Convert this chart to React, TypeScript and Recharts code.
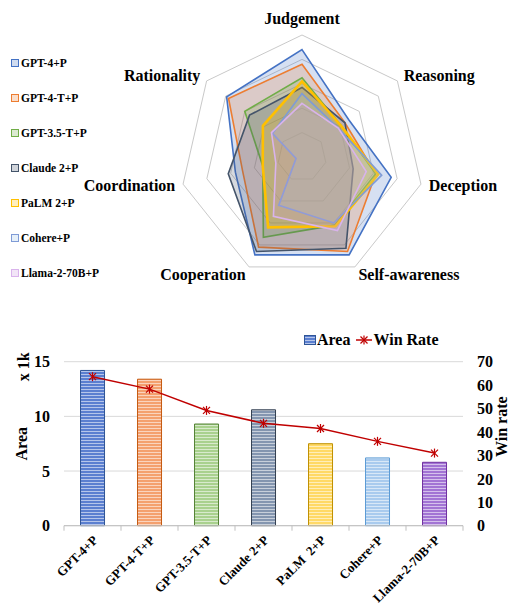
import React from "react";
import {
    RadarChart,
    Radar,
    PolarGrid,
    PolarAngleAxis,
    PolarRadiusAxis,
    Legend,
    ComposedChart,
    Bar,
    Line,
    XAxis,
    YAxis,
    CartesianGrid,
    Cell,
    Label,
} from "recharts";

// ---- data ----
const skills = ["Judgement", "Reasoning", "Deception", "Self-awareness", "Cooperation", "Coordination", "Rationality"];
const models = ["GPT-4+P", "GPT-4-T+P", "GPT-3.5-T+P", "Claude 2+P", "PaLM 2+P", "Cohere+P", "Llama-2-70B+P"];
const barLabels = ["GPT-4+P", "GPT-4-T+P", "GPT-3.5-T+P", "Claude 2+P", "PaLM  2+P", "Cohere+P", "Llama-2-70B+P"];

// radar scores (0-100), order follows skills
const gpt4 = [88, 49, 75, 89, 89, 56, 79];
const gpt4t = [76, 45, 62, 86, 82, 50, 77];
const gpt35t = [65, 41, 62, 62, 73, 33, 60];
const claude2 = [57, 45, 43, 83, 86, 62, 55];
const palm2 = [62, 41, 64, 63, 64, 33, 41];
const cohere = [52, 38, 67, 60, 44, 5, 31];
const llama2 = [44, 38, 54, 67, 54, 22, 32];
const radarSeries = [gpt4, gpt4t, gpt35t, claude2, palm2, cohere, llama2];

// bar chart
const areaK = [14.2, 13.4, 9.3, 10.6, 7.5, 6.2, 5.8];
const winRate = [63.6, 58.3, 49.2, 43.7, 41.5, 36.0, 31.0];
const areaTicks = [0, 5, 10, 15];
const winTicks = [0, 10, 20, 30, 40, 50, 60, 70];

// ---- styles ----
const FONT = "'Liberation Serif', 'Times New Roman', serif";
const radarStroke = ["#4472C4", "#ED7D31", "#70AD47", "#44546A", "#FFC000", "#7F9BD6", "#D9B3EC"];
const radarFill = ["#4472C4", "#ED7D31", "#70AD47", "#44546A", "#FFC000", "#9DC3E6", "#CC99E0"];
const barFill = ["#5B7FD0", "#F4A06E", "#A9D18E", "#8496B0", "#FFD966", "#A9CBEE", "#A274D4"];
const barStroke = ["#2F5597", "#C55A11", "#548235", "#333F50", "#BF9000", "#5B9BD5", "#7030A0"];

const radarData = skills.map((s, i) => {
    const row: Record<string, string | number> = { skill: s };
    radarSeries.forEach((vals, k) => {
        row[`s${k}`] = vals[i];
    });
    return row;
});

const barData = models.map((m, i) => ({
    name: barLabels[i],
    area: areaK[i],
    win: winRate[i],
}));

const CHART_W = 512;
const LEFT_AXIS_W = 64;
const RIGHT_AXIS_W = 49;
const BAND = (CHART_W - LEFT_AXIS_W - RIGHT_AXIS_W) / barData.length;

const SkillTick = (props: any) => {
    const { x, y, payload, textAnchor } = props;
    const top = textAnchor === "middle";
    return (
        <text
            x={x}
            y={top ? y - 9 : y}
            textAnchor={textAnchor}
            dominantBaseline="central"
            fontFamily={FONT}
            fontWeight={700}
            fontSize={16}
            fill="#000"
        >
            {payload.value}
        </text>
    );
};

const RadarLegend = () => (
    <div style={{ fontFamily: FONT, fontWeight: 700, fontSize: 11.5, color: "#000" }}>
        {models.map((m, i) => (
            <div key={m} style={{ height: 35, display: "flex", alignItems: "center" }}>
                <span
                    style={{
                        display: "inline-block",
                        width: 6,
                        height: 6,
                        border: `1px solid ${radarStroke[i]}`,
                        background: radarFill[i] + "40",
                        marginRight: 2,
                    }}
                />
                <span>{m}</span>
            </div>
        ))}
    </div>
);

const BarLegend = () => (
    <div style={{ display: "flex", alignItems: "center", fontFamily: FONT, fontWeight: 700, fontSize: 16, color: "#000" }}>
        <svg width={12} height={10} style={{ marginRight: 1 }}>
            <rect x={0.5} y={0.5} width={11} height={9} fill="url(#stripe0)" stroke={barStroke[0]} />
        </svg>
        <span>Area</span>
        <svg width={16} height={12} style={{ marginLeft: 6, marginRight: 1 }}>
            <line x1={0} y1={6} x2={16} y2={6} stroke="#C00000" strokeWidth={1.5} />
            <Asterisk cx={8} cy={6} />
        </svg>
        <span>Win Rate</span>
    </div>
);

function Asterisk({ cx, cy }: { cx: number; cy: number }) {
    const r = 3.5;
    return (
        <g stroke="#C00000" strokeWidth={1.2}>
            <line x1={cx - r} y1={cy - r} x2={cx + r} y2={cy + r} />
            <line x1={cx - r} y1={cy + r} x2={cx + r} y2={cy - r} />
            <line x1={cx} y1={cy - r - 1} x2={cx} y2={cy + r + 1} />
        </g>
    );
}

const WinDot = (props: any) => {
    const { cx, cy, index } = props;
    if (cx == null || cy == null) return null;
    return <Asterisk key={`dot-${index}`} cx={cx} cy={cy} />;
};

const ModelTick = (props: any) => {
    const { x, y, payload, index } = props;
    const half = BAND / 2;
    const ax = x + 3;
    const ay = y + 12;
    return (
        <g>
            <line x1={x - half} y1={y} x2={x - half} y2={y + 5} stroke="#bfbfbf" />
            {index === barData.length - 1 && (
                <line x1={x + half} y1={y} x2={x + half} y2={y + 5} stroke="#bfbfbf" />
            )}
            <text
                x={ax}
                y={ay}
                transform={`rotate(-45, ${ax}, ${ay})`}
                textAnchor="end"
                dominantBaseline="central"
                fontFamily={FONT}
                fontWeight={700}
                fontSize={13}
                fill="#000"
                style={{ whiteSpace: "pre" }}
            >
                {payload.value}
            </text>
        </g>
    );
};

const axisTick = { fontFamily: FONT, fontWeight: 700, fontSize: 16, fill: "#000" };

export default function App() {
    return (
        <div style={{ position: "absolute", left: 0, top: 0, width: 512, height: 605, background: "#fff", overflow: "hidden" }}>
            <div style={{ position: "absolute", left: 0, top: 0 }}>
                <RadarChart
                    width={512}
                    height={292}
                    data={radarData}
                    cx={302}
                    cy={157}
                    outerRadius={122}
                    margin={{ top: 0, right: 0, bottom: 0, left: 0 }}
                >
                    <PolarGrid
                        gridType="polygon"
                        radialLines={false}
                        stroke="#c9c9c9"
                        polarRadius={[24.4, 48.8, 73.2, 97.6, 122]}
                    />
                    <PolarAngleAxis dataKey="skill" tick={SkillTick} tickLine={false} axisLine={false} />
                    <PolarRadiusAxis domain={[0, 100]} tickCount={6} tick={false} axisLine={false} />
                    {models.map((m, k) => (
                        <Radar
                            key={m}
                            name={m}
                            dataKey={`s${k}`}
                            stroke={radarStroke[k]}
                            strokeWidth={k === 4 ? 2.6 : 1.6}
                            fill={radarFill[k]}
                            fillOpacity={0.22}
                            dot={false}
                            isAnimationActive={false}
                        />
                    ))}
                    <Legend
                        layout="vertical"
                        verticalAlign="middle"
                        align="center"
                        content={RadarLegend}
                        wrapperStyle={{ left: 11, top: 45, width: 110, height: 245 }}
                    />
                </RadarChart>
            </div>
            <div style={{ position: "absolute", left: 0, top: 300 }}>
                <ComposedChart
                    width={CHART_W}
                    height={305}
                    data={barData}
                    margin={{ top: 61.7, right: 0, bottom: 0, left: 0 }}
                    barCategoryGap="29%"
                >
                    <defs>
                        {barFill.map((c, i) => (
                            <pattern key={i} id={`stripe${i}`} width={4} height={3} patternUnits="userSpaceOnUse">
                                <rect width={4} height={3} fill={c} />
                                <rect y={2} width={4} height={1} fill="#ffffff" fillOpacity={0.55} />
                            </pattern>
                        ))}
                    </defs>
                    <CartesianGrid vertical={false} stroke="#d9d9d9" yAxisId="left" />
                    <XAxis
                        dataKey="name"
                        height={79.3}
                        axisLine={{ stroke: "#bfbfbf" }}
                        tickLine={false}
                        tickSize={0}
                        tickMargin={0}
                        interval={0}
                        tick={ModelTick}
                    />
                    <YAxis
                        yAxisId="left"
                        width={LEFT_AXIS_W}
                        domain={[0, 15]}
                        ticks={areaTicks}
                        axisLine={false}
                        tickLine={false}
                        tickMargin={8}
                        tick={axisTick}
                    >
                        <Label
                            content={(p: any) => {
                                const vb = p.viewBox || { x: 0, y: 61.7, width: 64, height: 164 };
                                return (
                                    <g fontFamily={FONT} fontWeight={700} fontSize={16} fill="#000">
                                        <text
                                            x={vb.x + 22}
                                            y={vb.y + vb.height / 2}
                                            transform={`rotate(-90, ${vb.x + 22}, ${vb.y + vb.height / 2})`}
                                            textAnchor="middle"
                                            dominantBaseline="central"
                                        >
                                            Area
                                        </text>
                                        <text
                                            x={vb.x + 24}
                                            y={vb.y + 5}
                                            transform={`rotate(-90, ${vb.x + 24}, ${vb.y + 5})`}
                                            textAnchor="middle"
                                            dominantBaseline="central"
                                        >
                                            x 1k
                                        </text>
                                    </g>
                                );
                            }}
                        />
                    </YAxis>
                    <YAxis
                        yAxisId="right"
                        orientation="right"
                        width={RIGHT_AXIS_W}
                        domain={[0, 70]}
                        ticks={winTicks}
                        axisLine={false}
                        tickLine={false}
                        tickMargin={8}
                        tick={axisTick}
                    >
                        <Label
                            content={(p: any) => {
                                const vb = p.viewBox || { x: 463, y: 61.7, width: 49, height: 164 };
                                const x = vb.x + 39;
                                const y = vb.y + vb.height / 2 - 17;
                                return (
                                    <text
                                        x={x}
                                        y={y}
                                        transform={`rotate(-90, ${x}, ${y})`}
                                        textAnchor="middle"
                                        dominantBaseline="central"
                                        fontFamily={FONT}
                                        fontWeight={700}
                                        fontSize={16}
                                        fill="#000"
                                    >
                                        Win rate
                                    </text>
                                );
                            }}
                        />
                    </YAxis>
                    <Bar yAxisId="left" dataKey="area" name="Area" isAnimationActive={false}>
                        {barData.map((d, i) => (
                            <Cell key={d.name} fill={`url(#stripe${i})`} stroke={barStroke[i]} strokeWidth={1} />
                        ))}
                    </Bar>
                    <Line
                        yAxisId="right"
                        dataKey="win"
                        name="Win Rate"
                        type="linear"
                        stroke="#C00000"
                        strokeWidth={1.5}
                        dot={WinDot}
                        activeDot={false}
                        isAnimationActive={false}
                    />
                    <Legend
                        verticalAlign="middle"
                        align="center"
                        content={BarLegend}
                        wrapperStyle={{ left: 304, top: 31, width: 160, height: 20 }}
                    />
                </ComposedChart>
            </div>
        </div>
    );
}
